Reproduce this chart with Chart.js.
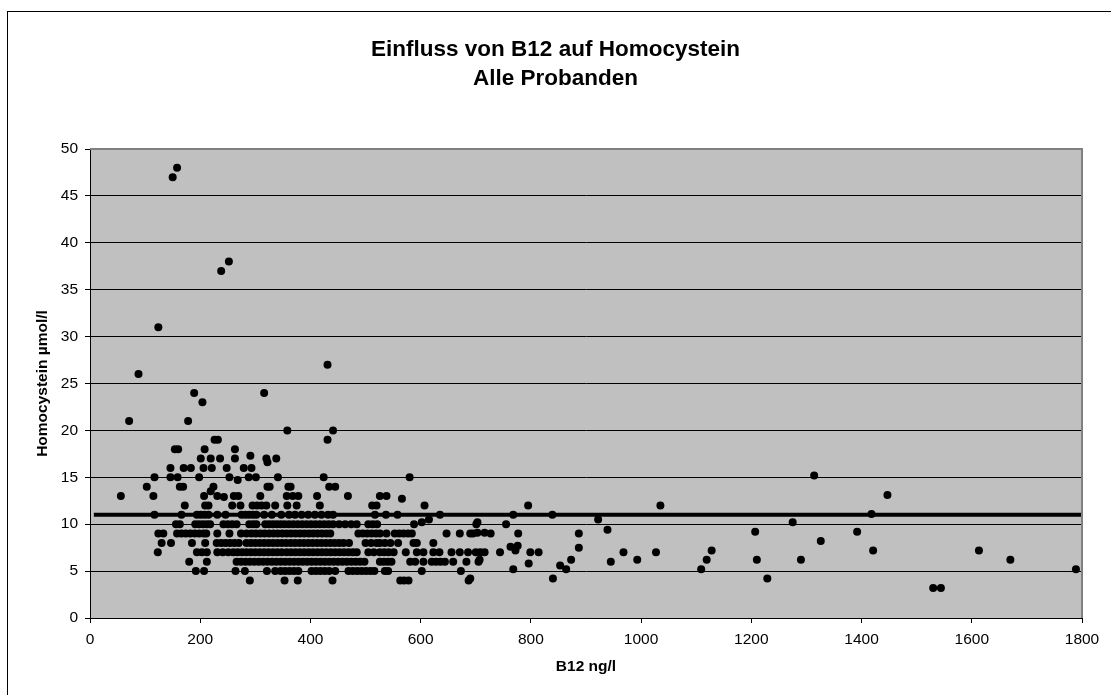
<!DOCTYPE html>
<html>
<head>
<meta charset="utf-8">
<script src="https://cdn.jsdelivr.net/npm/chart.js@4/dist/chart.umd.min.js"></script>
<style>
  html, body { margin: 0; padding: 0; background: #fff; overflow: hidden; }
  #rahmen { position: absolute; left: 7px; top: 11px; width: 1200px; height: 900px; border: 1px solid #000; }
  #box { position: absolute; left: 0; top: 0; width: 1111px; height: 695px; }
</style>
</head>
<body>
<div id="rahmen"></div>
<div id="box"><canvas id="myChart"></canvas></div>
<script>
// data: [B12 ng/l, Homocystein µmol/l]
const messwerte = [
  [158,48],[150,47],[252,38],[238,37],[124,31],[431,27],[88,26],
  [189,24],[316,24],[204,23],[71,21],[178,21],[358,20],[441,20],
  [226,19],[232,19],[431,19],
  [154,18],[160,18],[208,18],[263,18],
  [201,17],[219,17],[236,17],[263,17],[291,17.3],[320,17],[322,16.6],[338,17],
  [146,16],[170,16],[183,16],[206,16],[221,16],[248,16],[279,16],[293,16],
  [117,15],[146,15],[159,15],[198,15],[253,15],[288,15],[301,15],[341,15],[424,15],[580,15],[1314,15.2],[268,14.7],
  [103,14],[163,14],[169,14],[224,14],[322,14],[326,14],[360,14],[364,14],[434,14],[445,14],
  [56,13],[115,13],[207,13],[219,13.5],[231,13],[243,12.9],[261,13],[269,13],[309,13],[357,13],[368,13],[378,13],
  [412,13],[468,13],[526,13],[538,13],[566,12.7],[1447,13.1],
  [172,12],[209,12],[215,12],[258,12],[273,12],[295,12],[303,12],[311,12],[320,12],[336,12],[358,12],[375,12],
  [417,12],[512,12],[520,12],[607,12],[795,12],[1035,12],
  [117,11],[166,11],[194,11],[201,11],[208,11],[215,11],[231,11],[246,11],[275,11],[282,11],[289,11],[296,11],
  [302,11],[316,11],[330,11],[347,11],[361,11],[372,11],[384,11],[396,11],[408,11],[420,11],[432,11],[441,11],
  [517,11],[537,11],[558,11],[635,11],[768,11],[839,11],[1418,11.1],
  [615,10.5],[922,10.5],[602,10.2],[703,10.2],[1275,10.2],
  [156,10],[163,10],[191,10],[198,10],[205,10],[212,10],[218,10],[242,10],[250,10],[258,10],[266,10],[289,10],
  [296,10],[302,10],[318,10],[325,10],[332,10],[339,10],[346,10],[353,10],[361,10],[369,10],[377,10],[385,10],
  [393,10],[401,10],[409,10],[417,10],[425,10],[433,10],[441,10],[452,10],[463,10],[474,10],[484,10],[505,10],
  [513,10],[521,10],[588,10],[701,10],[755,10],
  [939,9.4],[1207,9.2],[1392,9.2],[716,9.1],[703,9.1],
  [124,9],[133,9],[158,9],[166,9],[174,9],[182,9],[190,9],[198,9],[206,9],[211,9],[231,9],[253,9],[274,9],
  [284,9],[293,9],[301,9],[309,9],[317,9],[325,9],[333,9],[341,9],[349,9],[357,9],[365,9],[373,9],[381,9],
  [389,9],[397,9],[405,9],[413,9],[421,9],[429,9],[436,9],[487,9],[495,9],[503,9],[511,9],[519,9],[526,9],
  [538,9],[553,9],[561,9],[569,9],[577,9],[584,9],[647,9],[671,9],[690,9],[695,9],[727,9],[777,9],[887,9],
  [1326,8.2],
  [130,8],[147,8],[185,8],[209,8],[230,8],[238,8],[246,8],[254,8],[262,8],[270,8],[284,8],[292,8],[300,8],
  [308,8],[316,8],[324,8],[332,8],[340,8],[348,8],[356,8],[364,8],[372,8],[380,8],[388,8],[396,8],[404,8],
  [412,8],[420,8],[428,8],[436,8],[444,8],[452,8],[460,8],[470,8],[500,8],[510,8],[520,8],[526,8],[535,8],
  [545,8],[559,8],[587,8],[593,8],[623,8],
  [763,7.6],[776,7.7],[887,7.5],[772,7.2],[1128,7.2],[1421,7.2],[1613,7.2],
  [123,7],[194,7],[203,7],[212,7],[231,7],[241,7],[251,7],[260,7],[268,7],[276,7],[284,7],[292,7],[300,7],
  [308,7],[316,7],[324,7],[332,7],[340,7],[348,7],[357,7],[365,7],[373,7],[381,7],[389,7],[397,7],[405,7],
  [413,7],[421,7],[429,7],[437,7],[445,7],[453,7],[461,7],[469,7],[477,7],[484,7],[505,7],[515,7],[526,7],
  [534,7],[542,7],[551,7],[573,7],[593,7],[605,7],[623,7],[634,7],[656,7],[671,7],[686,7],[700,7],[708,7],
  [716,7],[744,7],[799,7],[814,7],[968,7],[1027,7],
  [707,6.2],[873,6.2],[993,6.2],[1119,6.2],[1210,6.2],[1290,6.2],[1670,6.2],
  [180,6],[212,6],[266,6],[274,6],[282,6],[290,6],[298,6],[306,6],[314,6],[322,6],[330,6],[338,6],[346,6],
  [354,6],[362,6],[370,6],[378,6],[386,6],[394,6],[402,6],[410,6],[418,6],[426,6],[434,6],[442,6],[450,6],
  [458,6],[466,6],[474,6],[482,6],[490,6],[498,6],[526,6],[533,6],[540,6],[547,6],[581,6],[590,6],[605,6],
  [620,6],[628,6],[636,6],[644,6],[659,6],[683,6],[705,6],[945,6],
  [796,5.8],[853,5.6],[768,5.2],[864,5.2],[1109,5.2],[1789,5.2],
  [192,5],[207,5],[264,5],[281,5],[321,5],[336,5],[346,5],[354,5],[362,5],[370,5],[378,5],[402,5],[410,5],
  [418,5],[426,5],[434,5],[445,5],[469,5],[477,5],[485,5],[493,5],[501,5],[509,5],[516,5],[535,5],[541,5],
  [602,5],[673,5],
  [290,4],[353,4],[377,4],[440,4],[563,4],[570,4],[578,4],[687,4],[690,4.2],[840,4.2],[1229,4.2],
  [1530,3.2],[1544,3.2]
];

// horizontal reference line
const linieX = [7, 1800];
const linieY = 11;

// axes
const xTicks = [0, 200, 400, 600, 800, 1000, 1200, 1400, 1600, 1800];
const yTicks = [0, 5, 10, 15, 20, 25, 30, 35, 40, 45, 50];

const schrift = "'Liberation Sans', Arial, sans-serif";

// plot area background + gray frame (top/right)
const plotFlaeche = {
    id: 'plotFlaeche',
    beforeDraw(chart) {
        const a = chart.chartArea;
        const ctx = chart.ctx;
        ctx.save();
        ctx.fillStyle = '#c0c0c0';
        ctx.fillRect(a.left, a.top, a.right - a.left, a.bottom - a.top);
        ctx.restore();
    },
    afterDraw(chart) {
        const a = chart.chartArea;
        const ctx = chart.ctx;
        ctx.save();
        ctx.strokeStyle = '#808080';
        ctx.lineWidth = 2;
        ctx.beginPath();
        ctx.moveTo(a.left, a.top);
        ctx.lineTo(a.right, a.top);
        ctx.lineTo(a.right, a.bottom);
        ctx.stroke();
        ctx.restore();
    }
};

const data = {
    datasets: [{
        type: 'line',
        data: linieX.map(x => ({ x: x, y: linieY })),
        borderColor: '#000',
        borderWidth: 4,
        pointRadius: 0,
        order: 0
    }, {
        type: 'scatter',
        data: messwerte.map(p => ({ x: p[0], y: p[1] })),
        backgroundColor: '#000',
        borderWidth: 0,
        pointRadius: 4,
        pointHoverRadius: 4,
        order: 1
    }]
};

const config = {
    type: 'scatter',
    data,
    plugins: [plotFlaeche],
    options: {
        responsive: true,
        maintainAspectRatio: false,
        animation: false,
        layout: { padding: { left: 0, right: 0, top: 35, bottom: 0 } },
        plugins: {
            legend: { display: false },
            tooltip: { enabled: false },
            title: {
                display: true,
                text: ['Einfluss von B12 auf Homocystein', 'Alle Probanden'],
                color: '#000',
                font: { family: schrift, size: 22.5, weight: 'bold', lineHeight: '29px' },
                padding: { top: 0, bottom: 56 }
            }
        },
        scales: {
            x: {
                type: 'linear',
                min: 0,
                max: 1800,
                afterFit(scale) { scale.height = 77; },
                afterBuildTicks(scale) { scale.ticks = xTicks.map(v => ({ value: v })); },
                ticks: {
                    color: '#000',
                    font: { family: schrift, size: 15.5 },
                    padding: 7,
                    maxRotation: 0,
                    callback: v => String(v)
                },
                grid: { drawOnChartArea: false, drawTicks: true, tickLength: 5, tickColor: '#000' },
                border: { display: true, color: '#000', width: 1 },
                title: {
                    display: true,
                    text: 'B12 ng/l',
                    color: '#000',
                    font: { family: schrift, size: 15.5, weight: 'bold' },
                    padding: { top: 0, bottom: 19 }
                }
            },
            y: {
                type: 'linear',
                min: 0,
                max: 50,
                afterFit(scale) { scale.width = 90; },
                afterBuildTicks(scale) { scale.ticks = yTicks.map(v => ({ value: v })); },
                ticks: {
                    color: '#000',
                    font: { family: schrift, size: 15.5 },
                    padding: 7,
                    callback: v => String(v)
                },
                grid: {
                    color: ctx => (ctx.tick && ctx.tick.value === 50) ? 'rgba(0,0,0,0)' : '#000',
                    lineWidth: 1,
                    drawTicks: true,
                    tickLength: 5,
                    tickColor: '#000'
                },
                border: { display: true, color: '#000', width: 1 },
                title: {
                    display: true,
                    text: 'Homocystein µmol/l',
                    color: '#000',
                    font: { family: schrift, size: 15.5, weight: 'bold' },
                    padding: { top: 33, bottom: 0 }
                }
            },
            // empty right strip so the title centres on the page
            rand: {
                type: 'linear',
                position: 'right',
                display: true,
                afterFit(scale) { scale.width = 29; },
                ticks: { display: false },
                grid: { display: false, drawTicks: false },
                border: { display: false }
            }
        }
    }
};

const myChart = new Chart(document.getElementById('myChart'), config);
</script>
</body>
</html>
